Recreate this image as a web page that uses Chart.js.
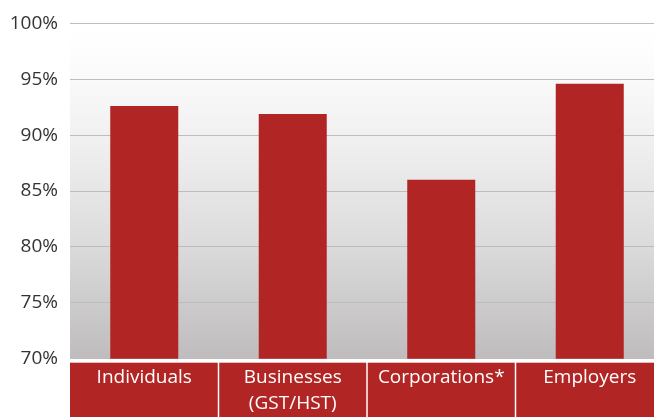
<!DOCTYPE html>
<html>
<head>
<meta charset="utf-8">
<script src="https://cdn.jsdelivr.net/npm/chart.js@4/dist/chart.umd.min.js"></script>
<style>
  html, body { margin: 0; padding: 0; background: #fff; overflow: hidden; }
  .chart-wrap { width: 654px; height: 417px; overflow: hidden; }
  .chart-wrap canvas { display: block; }
</style>
</head>
<body>
<div class="chart-wrap">
  <canvas class="js-chart" width="664" height="417"></canvas>
</div>
<script>
const categories = ['Individuals', ['Businesses', '(GST/HST)'], 'Corporations*', 'Employers'];
const compliance = [92.6, 91.9, 86.0, 94.6];
const yTicks = [70, 75, 80, 85, 90, 95, 100];

const barRed = '#b12624';
const labelFont = { family: '"Open Sans", sans-serif', size: 19 };

// grey wash behind the bars plus the red label strip under the axis
const backdrop = {
  id: 'backdrop',
  beforeDraw(chart) {
    const { ctx, chartArea: area, scales: { x } } = chart;
    ctx.save();

    const grad = ctx.createLinearGradient(0, area.top, 0, area.bottom);
    grad.addColorStop(0, '#ffffff');
    grad.addColorStop(0.1, '#fdfdfd');
    grad.addColorStop(0.35, '#f0f0f0');
    grad.addColorStop(0.65, '#dddcdc');
    grad.addColorStop(1, '#bebcbc');
    ctx.fillStyle = grad;
    ctx.fillRect(area.left, area.top, area.right - area.left, area.bottom - area.top);

    const stripTop = area.bottom + 4;
    const step = (x.right - x.left) / categories.length;
    ctx.fillStyle = barRed;
    categories.forEach((c, i) => {
      const left = x.left + i * step + (i === 0 ? 0 : 0.75);
      ctx.fillRect(left, stripTop, step - (i === 0 ? 0.75 : 1.5), chart.height - stripTop);
    });
    ctx.restore();
  }
};

const ctx = document.getElementsByClassName('js-chart')[0].getContext('2d');

// eslint-disable-next-line no-unused-vars
const myChart = new Chart(ctx, {
  type: 'bar',
  data: {
    labels: categories,
    datasets: [{
      data: compliance,
      backgroundColor: barRed,
      barPercentage: 0.458,
      categoryPercentage: 1,
    }],
  },
  options: {
    responsive: false,
    animation: false,
    layout: { padding: { top: 22, right: 0, bottom: 0, left: 0 } },
    plugins: {
      legend: { display: false },
      tooltip: { enabled: false },
    },
    scales: {
      x: {
        grid: { display: false, drawTicks: false },
        border: { display: false },
        ticks: {
          color: '#ffffff',
          font: { ...labelFont, lineHeight: 1.37 },
          padding: 6,
          maxRotation: 0,
          autoSkip: false,
        },
        afterFit(scale) { scale.height = 58.3; },
      },
      y: {
        min: yTicks[0],
        max: yTicks[yTicks.length - 1],
        afterBuildTicks(scale) { scale.ticks = yTicks.map(v => ({ value: v })); },
        grid: { color: '#bdbdbd', lineWidth: 1, drawTicks: false },
        border: { display: false },
        ticks: {
          color: '#333333',
          font: labelFont,
          padding: 12,
          callback: v => v + '%',
        },
        afterFit(scale) { scale.width = 70; },
      },
    },
  },
  plugins: [backdrop],
});
</script>
</body>
</html>
